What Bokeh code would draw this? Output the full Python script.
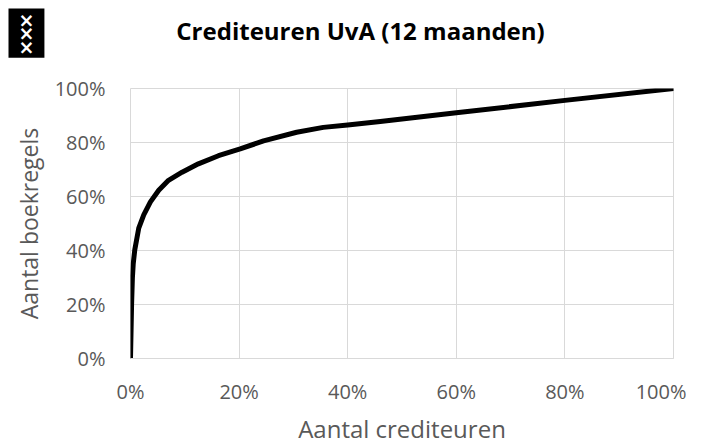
from bokeh.plotting import figure
from bokeh.models import Label, FixedTicker, NumeralTickFormatter, Range1d
from bokeh.embed import file_html
from bokeh.resources import INLINE

# Cumulative share of creditors (x) vs cumulative share of booking lines (y)
crediteuren = [0.0, 0.001, 0.002, 0.0035, 0.005, 0.0079, 0.0152, 0.0244, 0.0367, 0.052,
               0.070, 0.095, 0.125, 0.162, 0.202, 0.245, 0.306, 0.355, 0.40, 0.46,
               0.60, 0.80, 1.00]
boekregels = [0.0, 0.10, 0.20, 0.30, 0.35, 0.403, 0.483, 0.532, 0.580, 0.623,
              0.660, 0.690, 0.721, 0.751, 0.776, 0.806, 0.838, 0.856, 0.865, 0.878,
              0.91, 0.956, 1.00]
ticks = [0.0, 0.2, 0.4, 0.6, 0.8, 1.0]

title_text = "Crediteuren UvA (12 maanden)"
x_title = "Aantal crediteuren"
y_title = "Aantal boekregels"

FONT = "Open Sans"
GRID = "#d9d9d9"
TXT = "#595959"

W, H = 686, 440
BL, BT, FW, FH = 130, 88, 543, 272

p = figure(width=W, height=H, output_backend="svg", toolbar_location=None,
           title_location=None,
           x_range=Range1d(0, 1), y_range=Range1d(0, 1),
           min_border_left=BL, min_border_right=W - BL - FW, min_border_top=BT,
           min_border_bottom=H - BT - FH)
p.outline_line_color = GRID
p.background_fill_color = "white"
p.border_fill_color = "white"

p.line(crediteuren, boekregels, line_color="black", line_width=5,
       line_join="round", line_cap="round")

for ax in (p.xaxis[0], p.yaxis[0]):
    ax.ticker = FixedTicker(ticks=ticks)
    ax.formatter = NumeralTickFormatter(format="0%")
    ax.major_tick_line_color = None
    ax.minor_tick_line_color = None
    ax.major_label_text_font = FONT
    ax.major_label_text_font_size = "20px"
    ax.major_label_text_color = TXT

p.yaxis.axis_label = y_title
p.yaxis.axis_label_text_font = FONT
p.yaxis.axis_label_text_font_size = "23px"
p.yaxis.axis_label_text_color = TXT
p.yaxis.axis_label_text_font_style = "normal"
p.yaxis.axis_label_standoff = 7

p.xaxis.axis_line_color = GRID
p.yaxis.axis_line_color = None
p.xaxis.major_label_standoff = 13
p.yaxis.major_label_standoff = 19

p.xgrid.ticker = FixedTicker(ticks=ticks)
p.ygrid.ticker = FixedTicker(ticks=ticks)
p.xgrid.grid_line_color = GRID
p.ygrid.grid_line_color = GRID

# x-axis title, in the area below the plot
p.add_layout(Label(x=FW / 2, y=12, x_units="screen", y_units="screen", text=x_title,
                   text_font=FONT, text_font_size="24px", text_color=TXT,
                   text_align="center", text_baseline="alphabetic"), "below")

# chart title, in the area above the plot (nearest the plot)
p.add_layout(Label(x=230, y=58, x_units="screen", y_units="screen", text=title_text,
                   text_font=FONT, text_font_style="bold", text_font_size="24px",
                   text_color="black", text_align="center", text_baseline="alphabetic"),
             "above")

# logo (top of the area above the plot)
p.add_layout(Label(x=-122, y=47, x_units="screen", y_units="screen",
                   text="\u00d7\n\u00d7\n\u00d7", text_font="DejaVu Sans",
                   text_font_style="bold", text_font_size="19px", text_color="white",
                   text_line_height=0.62, text_align="center", text_baseline="top",
                   anchor="top_left",
                   background_fill_color="black",
                   padding=dict(left=10, right=10, top=0, bottom=0)), "above")

open("out.html", "w").write(file_html(p, INLINE))
